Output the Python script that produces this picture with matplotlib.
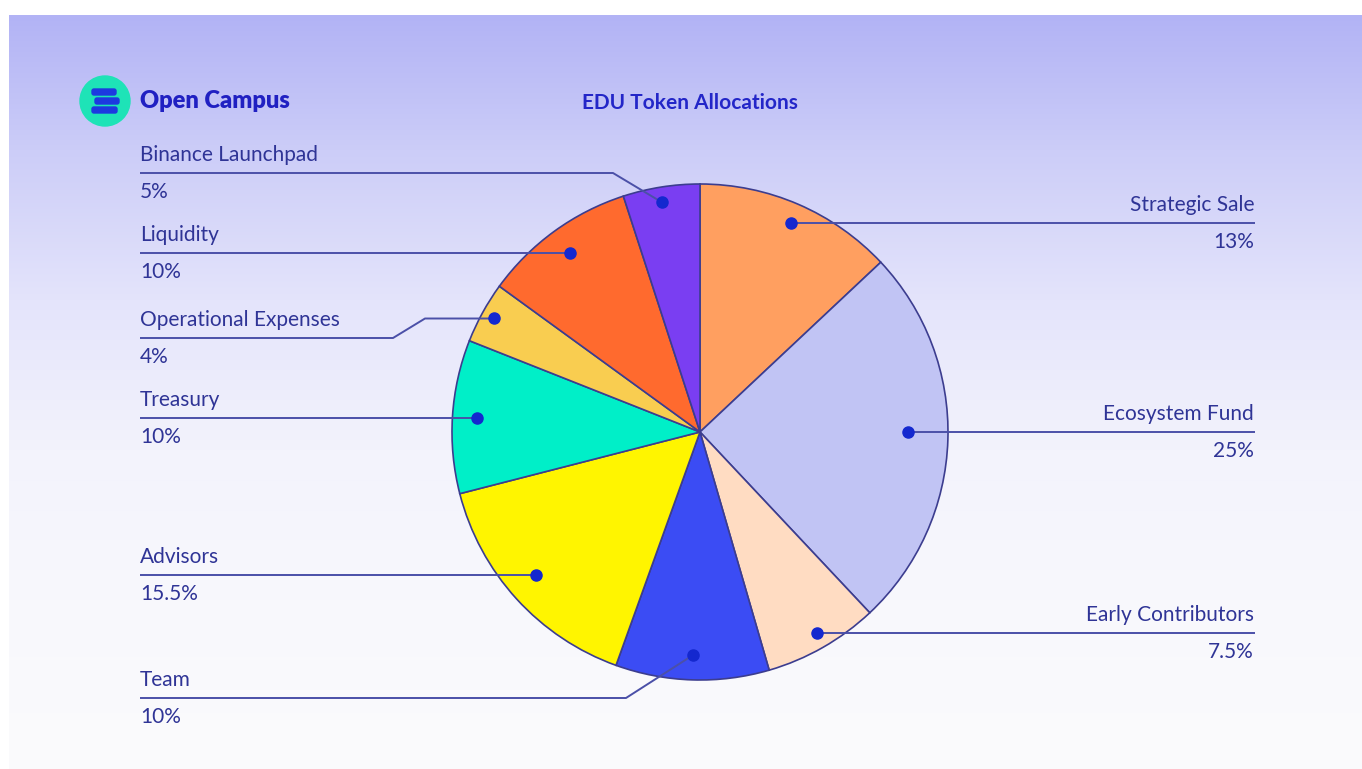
import numpy as np
import matplotlib.pyplot as plt
from matplotlib.patches import Circle, FancyBboxPatch

# --- data -------------------------------------------------------------
labels = ["Strategic Sale", "Ecosystem Fund", "Early Contributors", "Team",
          "Advisors", "Treasury", "Operational Expenses", "Liquidity",
          "Binance Launchpad"]
shares = [13, 25, 7.5, 10, 15.5, 10, 4, 10, 5]
colors = ["#ff9f60", "#c1c4f4", "#ffdcc2", "#3b4cf4", "#fff500",
          "#00efc8", "#f9cd50", "#ff6a2e", "#7a3ef2"]
title = "EDU Token Allocations"
brand = "Open Campus"

# --- layout (pixels of the 1362x769 canvas, y measured from the top) ---
W, H = 1362, 769
cx, cy, R = 700, 432, 248
dot_r = [0.92, 0.84, 0.94, 0.90, 0.88, 0.90, 0.95, 0.89, 0.94]
dot_da = [0, 1.8, 0.5, 0, -1.2, 0, 0, 0, 0.5]   # small angle nudges, deg
side = ["R", "R", "R", "L", "L", "L", "L", "L", "L"]
xl, xr = 140, 1255
# leader lines that bend: level of the label line and the elbow points
bends = {3: (698, [(626, 698)]),
         6: (338, [(393, 338), (425, None)]),
         8: (173, [(613, 173)])}

txt_c = "#2f3496"
line_c = "#4b50a8"
dot_c = "#1428cf"
font = "Lato"


def fy(y):
    return H - y


fig = plt.figure(figsize=(W / 100, H / 100), dpi=100)
fig.patch.set_facecolor("white")
ax = fig.add_axes([0, 0, 1, 1])

# background gradient (white strip on top and left)
stops_y = [15, 150, 300, 450, 600, 769]
stops_c = np.array([[178, 179, 245], [204, 205, 248], [228, 228, 251],
                    [243, 243, 252], [248, 248, 252], [251, 251, 252]]) / 255
ys = np.arange(15, H)
col = np.stack([np.interp(ys, stops_y, stops_c[:, k]) for k in range(3)], axis=1)
grad = np.repeat(col[:, None, :], W - 9, axis=1)
ax.imshow(grad, extent=[9, W, fy(H), fy(15)], aspect="auto",
          zorder=0, interpolation="none")

wedges, _ = ax.pie(shares, colors=colors, startangle=90, counterclock=False,
                   center=(cx, fy(cy)), radius=R, frame=True,
                   wedgeprops=dict(edgecolor="#3c3d8f", linewidth=1.2))
for w in wedges:
    w.set_zorder(2)

for i, w in enumerate(wedges):
    mid = np.deg2rad((w.theta1 + w.theta2) / 2 + dot_da[i])
    dx = cx + R * dot_r[i] * np.cos(mid)
    dy = fy(cy) + R * dot_r[i] * np.sin(mid)
    if i in bends:
        level, elbows = bends[i]
        pts = [(xl, fy(level))]
        for ex, ey in elbows:
            pts.append((ex, dy if ey is None else fy(ey)))
        pts.append((dx, dy))
        ly = fy(level)
    else:
        end = xr if side[i] == "R" else xl
        pts = [(end, dy), (dx, dy)]
        ly = dy
    px, py = zip(*pts)
    ax.plot(px, py, color=line_c, lw=1.4, zorder=3, solid_capstyle="butt")
    ax.plot(dx, dy, "o", color=dot_c, ms=8, zorder=4)

    if side[i] == "R":
        tx, ha = xr - 1, "right"
    else:
        tx, ha = xl, "left"
    ax.text(tx, ly + 18, labels[i], ha=ha, va="center", fontsize=15,
            color=txt_c, family=font, zorder=5)
    ax.text(tx, ly - 19, f"{shares[i]:g}%", ha=ha, va="center", fontsize=15,
            color=txt_c, family=font, zorder=5)

# header: logo, brand and title
ax.add_patch(Circle((105, fy(101)), 25, color="#1ee3b7", zorder=3))
for bx, by, bw in [(92, 92, 24), (95, 101, 24), (92, 110, 25)]:
    ax.add_patch(FancyBboxPatch((bx, fy(by) - 3), bw, 6,
                                boxstyle="round,pad=0,rounding_size=2",
                                color="#1c3ae0", zorder=4))
ax.text(140, fy(101), brand, ha="left", va="center", fontsize=17,
        fontweight="heavy", color="#2020c2", family=font, zorder=5)
ax.text(690, fy(103), title, ha="center", va="center", fontsize=15,
        fontweight="bold", color="#2326c8", family=font, zorder=5)

ax.set_xlim(0, W)
ax.set_ylim(0, H)
ax.set_aspect("auto")
ax.axis("off")

fig.savefig("out.png", dpi=100, facecolor="white")
